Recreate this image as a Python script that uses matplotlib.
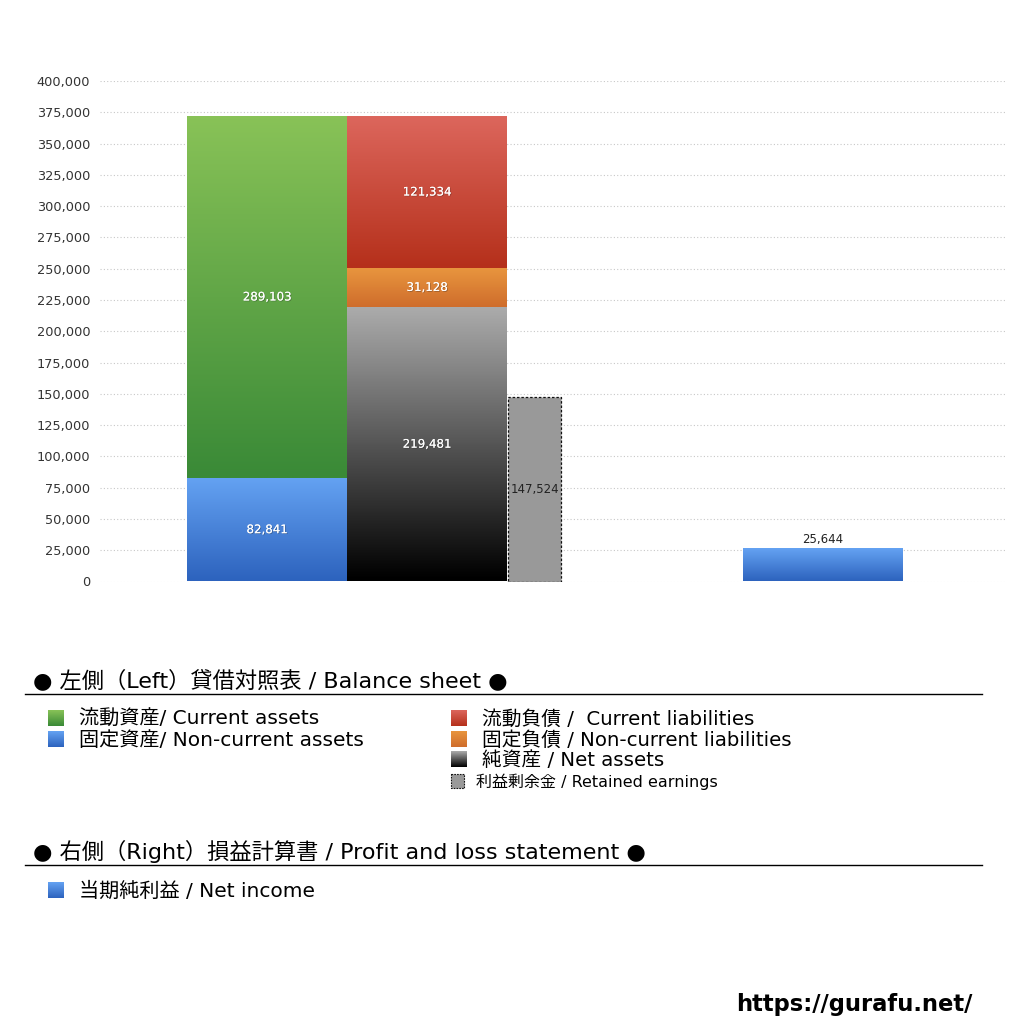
import matplotlib
matplotlib.use('Agg')
import matplotlib.pyplot as plt
import matplotlib.patheffects as pe
from matplotlib.colors import LinearSegmentedColormap
from matplotlib.patches import Rectangle
import numpy as np

plt.rcParams['font.family'] = ['DejaVu Sans', 'Noto Sans CJK JP']

# balance sheet (left) and P/L (right)
assets_labels = ['固定資産/ Non-current assets', '流動資産/ Current assets']
assets_values = [82841, 289103]
liab_labels = ['純資産 / Net assets', '固定負債 / Non-current liabilities', '流動負債 /  Current liabilities']
liab_values = [219481, 31128, 121334]
retained_label = '利益剰余金 / Retained earnings'
retained_value = 147524
income_label = '当期純利益 / Net income'
income_value = 25644

# gradient colours (top, bottom)
grad = {
    'green': ('#88c257', '#3a8a37'),
    'blue': ('#64a2f2', '#2d63be'),
    'red': ('#dc665c', '#b5301b'),
    'orange': ('#e8953e', '#cf6d2c'),
    'black': ('#ababab', '#000000'),
}

W, H = 1024, 1024
fig = plt.figure(figsize=(W / 100, H / 100), dpi=100)
fig.patch.set_facecolor('white')

# main chart axes (pixel box 100..1007 x 81..581)
ax = fig.add_axes([100 / W, 1 - 581.5 / H, 907 / W, 500.5 / H])
ax.set_xlim(0, 907)
ax.set_ylim(0, 400000)


def grad_img(top, bottom):
    cm = LinearSegmentedColormap.from_list('g', [bottom, top])
    return cm(np.linspace(0, 1, 64)).reshape(64, 1, 4)[::-1]


def grad_bar(axis, x0, w, y0, h, key, z=2):
    top, bottom = grad[key]
    axis.imshow(grad_img(top, bottom), extent=[x0, x0 + w, y0, y0 + h],
                aspect='auto', interpolation='bilinear', zorder=z)


shadow = [pe.withSimplePatchShadow(offset=(0.6, -0.6), shadow_rgbFace='#222222', alpha=0.35), pe.Normal()]

bar_w = 160
left_x = 87
right_x = left_x + bar_w
ret_x = right_x + bar_w + 1
ret_w = 53
inc_x = 643

# left column: assets
bottom = 0
for val, key in zip(assets_values, ['blue', 'green']):
    grad_bar(ax, left_x, bar_w, bottom, val, key)
    ax.text(left_x + bar_w / 2, bottom + val / 2, f'{val:,}', color='white', fontsize=8.5,
            ha='center', va='center', zorder=5, path_effects=shadow)
    bottom += val

# right column: net assets + liabilities
bottom = 0
for val, key in zip(liab_values, ['black', 'orange', 'red']):
    grad_bar(ax, right_x, bar_w, bottom, val, key)
    ax.text(right_x + bar_w / 2, bottom + val / 2, f'{val:,}', color='white', fontsize=8.5,
            ha='center', va='center', zorder=5, path_effects=shadow)
    bottom += val

# retained earnings
ax.bar(ret_x, retained_value, width=ret_w, align='edge', color='#999999',
       edgecolor='#111111', linestyle=(0, (2, 1.5)), linewidth=0.9, zorder=3)
ax.text(ret_x + ret_w / 2, retained_value / 2, f'{retained_value:,}', color='#222222',
        fontsize=8.5, ha='center', va='center', zorder=5)

# net income
grad_bar(ax, inc_x, bar_w, 0, income_value, 'blue')
ax.text(inc_x + bar_w / 2, income_value + 2500, f'{income_value:,}', color='#222222',
        fontsize=8.5, ha='center', va='bottom', zorder=5)

ax.set_xlim(0, 907)
ax.set_ylim(0, 400000)
ticks = np.arange(0, 400001, 25000)
ax.set_yticks(ticks)
ax.set_yticklabels([f'{t:,}' for t in ticks], fontsize=9.3, color='#333333')
ax.set_xticks([])
ax.tick_params(axis='y', length=0, pad=7)
for s in ax.spines.values():
    s.set_visible(False)
for t in ticks:
    ax.axhline(t, color='#c8c8c8' if t else '#dddddd', linestyle=(0, (1, 2)), linewidth=0.8, zorder=1)

# legend / caption area in pixel coordinates
lg = fig.add_axes([0, 0, 1, 1])
lg.set_xlim(0, W)
lg.set_ylim(H, 0)
lg.axis('off')
lg.patch.set_alpha(0)

lg.text(33, 680, '● 左側（Left）貸借対照表 / Balance sheet ●', fontsize=16, va='center', ha='left')
lg.plot([25, 982], [694, 694], color='black', lw=1)
lg.text(33, 851, '● 右側（Right）損益計算書 / Profit and loss statement ●', fontsize=16, va='center', ha='left')
lg.plot([25, 982], [865, 865], color='black', lw=1)


def legend_sq(x, y, key, text, size=14.5):
    top, bottom = grad[key]
    lg.imshow(grad_img(top, bottom), extent=[x, x + 16, y + 8, y - 8], aspect='auto',
              interpolation='bilinear')
    lg.text(x + 31, y + 1.5, text, fontsize=size, va='center', ha='left')


legend_sq(48, 718, 'green', assets_labels[1])
legend_sq(48, 739, 'blue', assets_labels[0])
legend_sq(451, 718, 'red', liab_labels[2], size=14.2)
legend_sq(451, 739, 'orange', liab_labels[1], size=14.2)
legend_sq(451, 759, 'black', liab_labels[0], size=14.2)
lg.add_patch(Rectangle((451, 774), 13, 14, facecolor='#999999', edgecolor='#111111',
                       linestyle=(0, (1.5, 1)), linewidth=0.8))
lg.text(476, 782, retained_label, fontsize=11.5, va='center', ha='left')
legend_sq(48, 890, 'blue', income_label)

lg.text(972, 1004, 'https://gurafu.net/', fontsize=16.3, fontweight='bold', ha='right',
        va='center')
lg.set_xlim(0, W)
lg.set_ylim(H, 0)

fig.savefig('out.png', dpi=100, facecolor='white')
